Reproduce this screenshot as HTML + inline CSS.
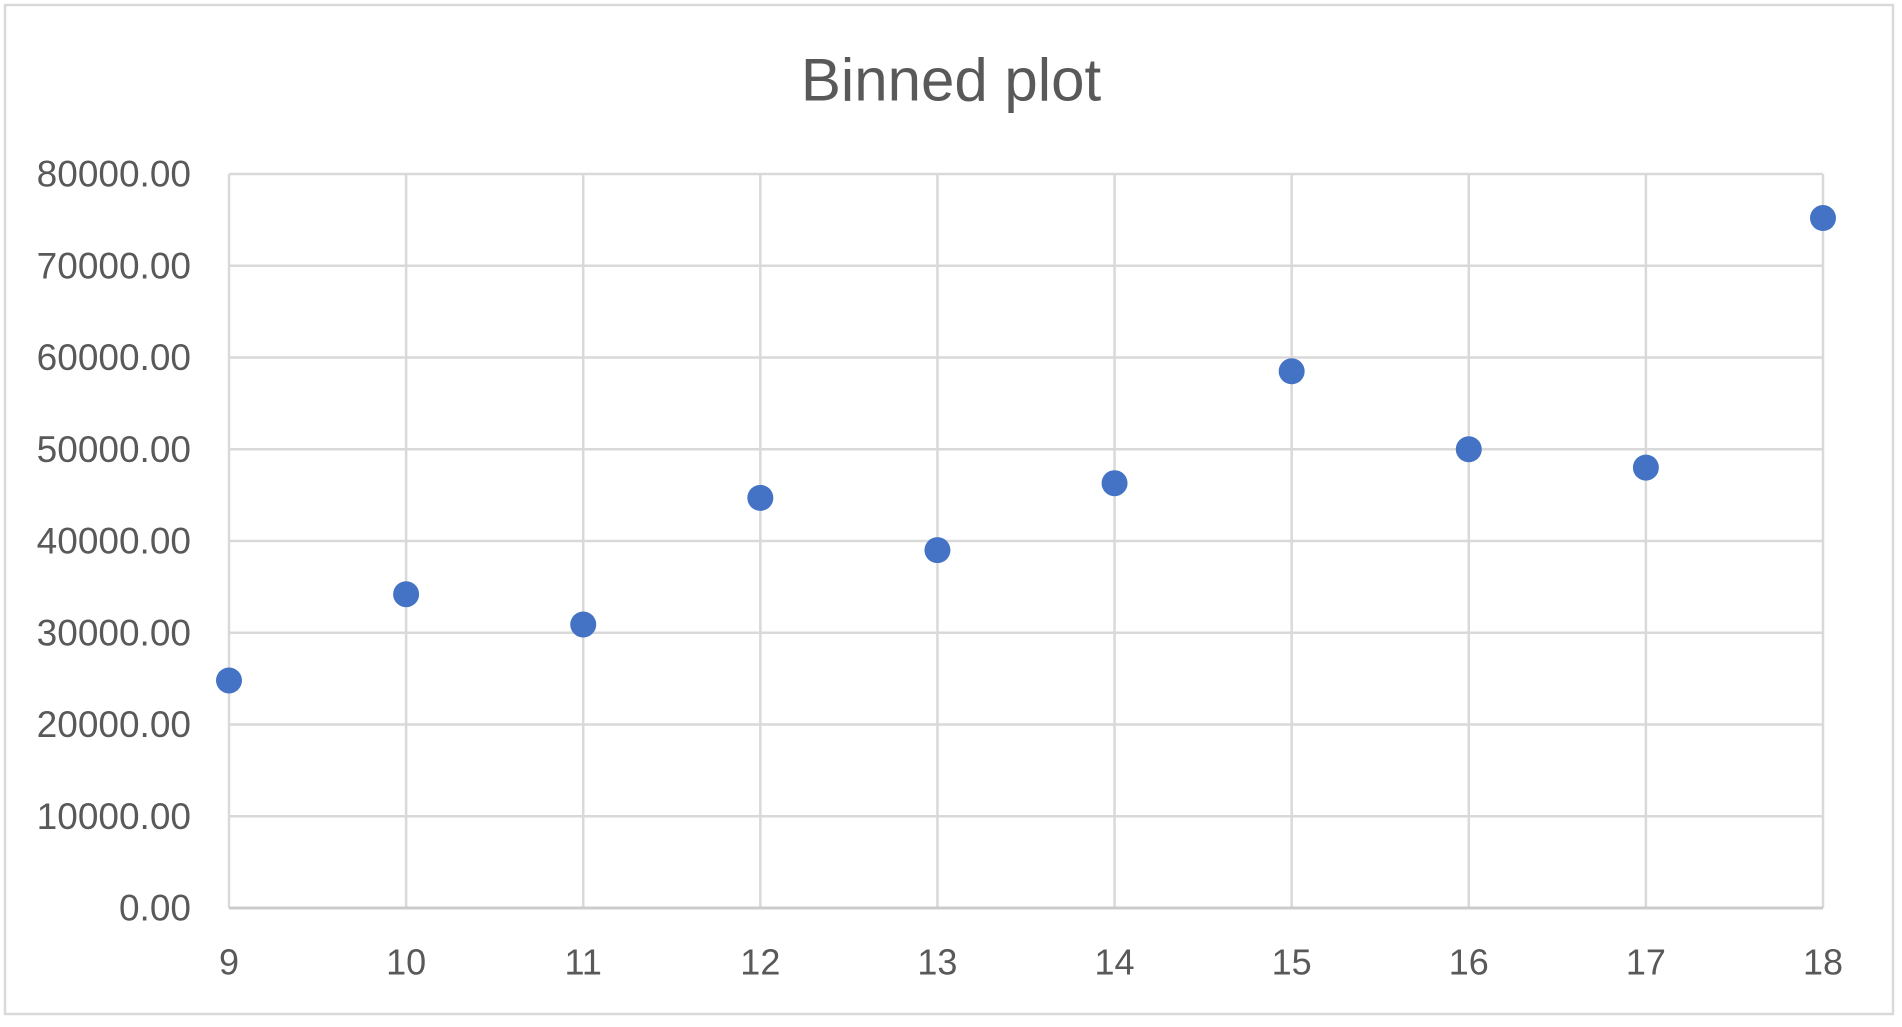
<!DOCTYPE html>
<html><head><meta charset="utf-8"><style>
html,body{margin:0;padding:0;background:#fff;}
svg text{font-family:"Liberation Sans",sans-serif;fill:#595959;}
</style></head><body>
<svg width="1902" height="1022" viewBox="0 0 1902 1022">
<rect x="5" y="5" width="1888" height="1009" fill="#fff" stroke="#d9d9d9" stroke-width="2.5"/>
<text x="951" y="80" font-size="60" text-anchor="middle" dominant-baseline="central">Binned plot</text>
<g id="grid"></g><g id="axes"></g><g id="points"></g>
</svg>
<script>
const xCats=[9,10,11,12,13,14,15,16,17,18];
const yVals=[24800,34200,30900,44700,39000,46300,58500,50000,48000,75200];
const yTicks=[0,10000,20000,30000,40000,50000,60000,70000,80000];
const ns="http://www.w3.org/2000/svg";
const L=229,R=1823,T=174,B=908;
const xS=v=>L+(v-9)/(18-9)*(R-L);
const yS=v=>B-v/80000*(B-T);
function mk(tag,attrs,parent){const e=document.createElementNS(ns,tag);for(const k in attrs)e.setAttribute(k,attrs[k]);document.getElementById(parent).appendChild(e);return e;}
yTicks.forEach(t=>{
 const l=mk('line',{x1:L,x2:R,y1:yS(t),y2:yS(t),stroke:'#d9d9d9','stroke-width':2.5},'grid');
 
 
 const tx=mk('text',{x:191,y:yS(t),'font-size':37,'text-anchor':'end','dominant-baseline':'central'},'axes');
 tx.textContent=t.toFixed(2);
 
 
});
xCats.forEach(c=>{
 const l=mk('line',{x1:xS(c),x2:xS(c),y1:T,y2:B,stroke:'#d9d9d9','stroke-width':2.5},'grid');
 
 
 const tx=mk('text',{x:xS(c),y:962,'font-size':36,'text-anchor':'middle','dominant-baseline':'central'},'axes');
 tx.textContent=c;
 
 
});
const ax=mk('line',{x1:L,x2:R,y1:B,y2:B,stroke:'#cccccc','stroke-width':3},'axes');


xCats.forEach((c,i)=>{
 const p=mk('circle',{cx:xS(c),cy:yS(yVals[i]),r:13,fill:'#4472C4'},'points');
 
 
});
</script>
</body></html>
